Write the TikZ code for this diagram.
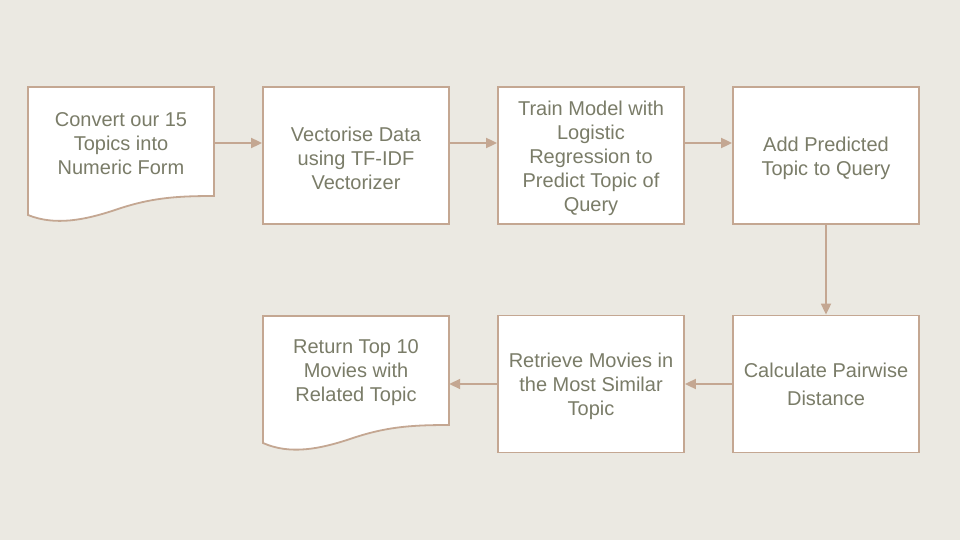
\documentclass[tikz,border=0pt]{standalone}
\usepackage{fontspec}
\setmainfont{Liberation Sans}
\usetikzlibrary{arrows.meta}
\definecolor{bg}{HTML}{EBE9E2}
\definecolor{edge}{HTML}{C4A792}
\definecolor{txt}{HTML}{7A7C68}
\tikzset{
  x=1pt,y=-1pt,
  box/.style={draw=edge,line width=1.8pt,fill=white,minimum width=186pt,minimum height=137pt,inner sep=0pt,
    text=txt,align=center,font=\fontsize{20}{24}\selectfont},
  txtonly/.style={text=txt,align=center,font=\fontsize{20}{24}\selectfont,inner sep=0pt},
  doctext/.style={draw=none,minimum width=186pt,minimum height=110pt,inner sep=0pt,
    text=txt,align=center,font=\fontsize{20}{24}\selectfont},
  docshape/.style={draw=edge,line width=1.8pt,fill=white,line join=miter},
  conn/.style={draw=edge,line width=1.8pt,-{Triangle[length=11pt,width=10pt]}}
}
\begin{document}
\begin{tikzpicture}
\fill[bg] (0,0) rectangle (960,540);
\useasboundingbox (0,0) rectangle (960,540);
% document shapes
\path[docshape] (28,87) -- (214,87) -- (214,196) .. controls (175,196) and (150,198) .. (115,210)
  .. controls (85,220) and (55,226) .. (28,215) -- cycle;
\path[docshape] (263,316) -- (449,316) -- (449,425) .. controls (410,425) and (385,427) .. (350,439)
  .. controls (320,449) and (290,455) .. (263,443) -- cycle;
\node[doctext] (n1) at (121,143) {};
\node[txtonly] at (121,144) {Convert our 15\\Topics into\\Numeric Form};
\node[box] (n2) at (356,155.5) {};
\node[txtonly] at (356,158) {Vectorise Data\\using TF-IDF\\Vectorizer};
\node[box] (n3) at (591,155.5) {};
\node[txtonly] at (591,158) {Train Model with\\Logistic\\Regression to\\Predict Topic of\\Query};
\node[box] (n4) at (826,155.5) {};
\node[txtonly] at (826,158) {Add Predicted\\Topic to Query};
\node[box] (n5) at (826,384) {};
\node[txtonly,font=\fontsize{20}{28}\selectfont] at (826,384) {Calculate Pairwise\\Distance};
\node[box] (n6) at (591,384) {};
\node[txtonly] at (591,386) {Retrieve Movies in\\the Most Similar\\Topic};
\node[doctext] (n7) at (356,384) {};
\node[txtonly] at (356,373) {Return Top 10\\Movies with\\Related Topic};
\draw[conn] (n1.east) -- (n2.west |- n1.east);
\draw[conn] (n2.east |- n1.east) -- (n3.west |- n1.east);
\draw[conn] (n3.east |- n1.east) -- (n4.west |- n1.east);
\draw[conn] (n4.south) -- (n5.north);
\draw[conn] (n5.west) -- (n6.east);
\draw[conn] (n6.west) -- (n7.east);
\end{tikzpicture}
\end{document}
